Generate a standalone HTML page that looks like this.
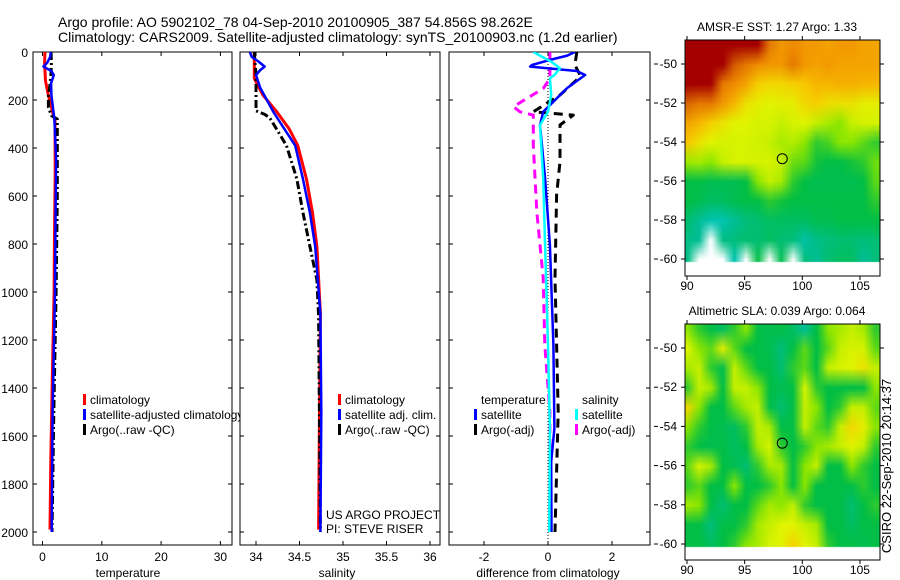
<!DOCTYPE html>
<html><head><meta charset="utf-8">
<style>
body{margin:0;background:#fff;width:900px;height:580px;overflow:hidden;position:relative;font-family:"Liberation Sans",Arial,sans-serif}
canvas{position:absolute}
svg{position:absolute;left:0;top:0}
text{font-family:"Liberation Sans",Arial,sans-serif;font-size:12px;fill:#000}
</style></head>
<body>
<canvas id="sst" width="195" height="236" style="left:685px;top:40px"></canvas>
<canvas id="sla" width="195" height="236" style="left:685px;top:324px"></canvas>
<svg id="s" width="900" height="580" xmlns="http://www.w3.org/2000/svg">
<defs>
<clipPath id="c1"><rect x="33" y="52" width="199" height="493"/></clipPath>
<clipPath id="c2"><rect x="240" y="52" width="200" height="493"/></clipPath>
<clipPath id="c3"><rect x="449" y="52" width="201" height="493"/></clipPath>
<clipPath id="c1x"><rect x="0" y="0" width="240" height="580"/></clipPath>
</defs>
<text x="58" y="27" style="font-size:14px">Argo profile: AO 5902102_78 04-Sep-2010 20100905_387 54.856S 98.262E</text>
<text x="58" y="42" style="font-size:14px">Climatology: CARS2009. Satellite-adjusted climatology: synTS_20100903.nc (1.2d earlier)</text>
<g id="g"></g>
</svg>
<script>
// ---- profile data ----
const tClimDepth=[0,50,120,180,250,290,500,800,1000,1360,1700,1990];
const tClimVal=[0.4,0.35,0.5,1.0,1.7,2.1,2.15,2.0,1.95,1.65,1.4,1.26];
const tSatDepth=[0,20,45,61,79,96,130,180,280,450,700,1000,1500,2000];
const tSatVal=[1.4,1.3,0.8,0.15,1.5,1.9,1.45,1.5,2.0,2.3,2.2,2.1,1.7,1.55];
const tArgoDepth=[0,60,100,150,180,230,265,280,400,600,1000,1500,2000];
const tArgoVal=[1.45,1.5,1.4,1.2,1.0,1.0,1.5,2.5,2.5,2.5,2.3,1.9,1.6];
const sClimDepth=[0,60,110,180,250,320,390,530,670,810,1090,1500,1990];
const sClimVal=[33.98,33.98,33.98,34.08,34.24,34.38,34.48,34.58,34.65,34.70,34.74,34.73,34.72];
const sSatDepth=[0,20,40,61,75,96,150,250,390,530,670,810,1090,1500,2000];
const sSatVal=[33.93,33.95,34.03,34.1,34.05,34.0,34.05,34.2,34.45,34.54,34.62,34.68,34.74,34.75,34.74];
const sArgoDepth=[0,100,180,245,260,275,390,530,670,810,950,1100,2000];
const sArgoVal=[33.98,34.0,34.0,34.0,34.1,34.16,34.35,34.47,34.54,34.62,34.70,34.72,34.74];
const dTSatDepth=[0,15,35,54,61,79,96,150,249,304,527,804,1221,1568,1707,2000];
const dTSatVal=[0.84,0.6,0.0,-0.5,-0.56,0.9,1.16,0.6,-0.15,-0.25,-0.09,0.06,0.17,0.2,0.1,0.11];
const dTArgoDepth=[0,54,96,110,179,249,263,304,457,596,943,1221,1499,2000];
const dTArgoVal=[0.9,0.84,1.0,0.95,0.375,-0.46,0.79,0.375,0.375,0.27,0.22,0.27,0.32,0.22];
const dSSatDepth=[0,40,68,96,110,179,249,304,527,804,1221,1568,2000];
const dSSatVal=[-0.46,0.1,0.375,0.2,0.06,0.1,0,-0.25,-0.15,-0.09,0,0.06,0.04];
const dSArgoDepth=[0,110,152,228,249,263,388,665,943,1221,1499,2000];
const dSArgoVal=[0.06,0.06,-0.15,-1.08,-0.875,-0.46,-0.46,-0.35,-0.15,-0.1,0.06,0.06];
const depthTicks=[0,200,400,600,800,1000,1200,1400,1600,1800,2000];
const tTicks=[0,10,20,30];
const sTicks=[34,34.5,35,35.5,36];
const sTickLabels=["34","34.5","35","35.5","36"];
const dTicks=[-2,0,2];
const dTickLabels=["-2","0","2"];
// ---- map data (rows lat -49..-60, cols lon 90..106) ----
const N=null;
const sstGrid=[
[1,1,1,1,1,1,1,0.85,0.8,0.82,0.8,0.8,0.78,0.8,0.8,0.78,0.78],
[1,1,1,1,0.9,0.85,0.82,0.8,0.8,0.85,0.8,0.78,0.8,0.78,0.78,0.78,0.78],
[1,1,1,0.85,0.82,0.78,0.7,0.68,0.68,0.7,0.72,0.75,0.75,0.76,0.76,0.75,0.75],
[0.88,0.85,0.85,0.8,0.75,0.65,0.62,0.6,0.62,0.62,0.68,0.7,0.66,0.65,0.65,0.62,0.62],
[0.78,0.75,0.7,0.65,0.6,0.6,0.58,0.58,0.55,0.58,0.6,0.55,0.5,0.45,0.55,0.58,0.58],
[0.72,0.65,0.6,0.58,0.58,0.58,0.57,0.55,0.5,0.52,0.45,0.35,0.38,0.45,0.45,0.4,0.35],
[0.48,0.5,0.45,0.55,0.58,0.58,0.58,0.58,0.55,0.42,0.4,0.32,0.3,0.3,0.32,0.35,0.42],
[0.3,0.3,0.28,0.28,0.28,0.3,0.45,0.55,0.5,0.35,0.3,0.28,0.28,0.28,0.28,0.3,0.4],
[0.3,0.28,0.25,0.25,0.28,0.3,0.3,0.35,0.32,0.3,0.3,0.3,0.3,0.3,0.3,0.3,0.35],
[0.22,0.15,0.1,0.1,0.15,0.2,0.22,0.25,0.25,0.25,0.25,0.28,0.28,0.3,0.3,0.3,0.3],
[0.18,0.15,N,0.18,0.2,0.22,0.22,0.25,0.22,0.2,0.12,0.18,0.2,0.22,0.22,0.2,0.22],
[0.18,N,N,N,0.1,N,0.3,N,0.28,N,0.2,0.15,0.22,0.25,0.25,0.15,0.2]];
const slaGrid=[
[0.45,0.35,0.3,0.25,0.35,0.45,0.3,0.28,0.3,0.25,0.15,0.3,0.45,0.5,0.55,0.5,0.35],
[0.6,0.45,0.4,0.62,0.4,0.3,0.3,0.28,0.2,0.3,0.4,0.3,0.4,0.55,0.58,0.58,0.4],
[0.5,0.55,0.35,0.28,0.55,0.4,0.3,0.3,0.22,0.35,0.4,0.3,0.55,0.58,0.6,0.65,0.55],
[0.35,0.55,0.5,0.3,0.55,0.55,0.45,0.3,0.28,0.3,0.58,0.35,0.3,0.3,0.3,0.3,0.45],
[0.68,0.45,0.3,0.3,0.4,0.5,0.55,0.3,0.22,0.3,0.55,0.45,0.3,0.35,0.55,0.55,0.4],
[0.45,0.35,0.3,0.28,0.25,0.35,0.55,0.5,0.3,0.3,0.55,0.4,0.35,0.55,0.68,0.62,0.45],
[0.35,0.3,0.28,0.3,0.25,0.3,0.5,0.58,0.35,0.3,0.35,0.45,0.5,0.55,0.6,0.55,0.35],
[0.4,0.58,0.5,0.3,0.28,0.22,0.35,0.5,0.5,0.3,0.45,0.55,0.3,0.3,0.45,0.35,0.3],
[0.35,0.4,0.3,0.3,0.45,0.3,0.3,0.35,0.45,0.3,0.45,0.3,0.3,0.3,0.3,0.35,0.3],
[0.5,0.45,0.3,0.22,0.3,0.3,0.4,0.5,0.45,0.55,0.35,0.3,0.3,0.3,0.22,0.3,0.35],
[0.3,0.3,0.2,0.3,0.3,0.35,0.5,0.55,0.6,0.6,0.55,0.5,0.3,0.3,0.25,0.3,0.3],
[0.3,0.3,0.25,0.3,0.35,0.45,0.5,0.58,0.6,0.7,0.6,0.55,0.35,0.3,0.3,0.28,0.3]];
const lonTicks=[90,95,100,105];
const latTicks=[-50,-52,-54,-56,-58,-60];
const argoLon=98.262, argoLat=-54.856;

const NS="http://www.w3.org/2000/svg";
const G=document.getElementById('g');
function el(tag,attrs,parent){const e=document.createElementNS(NS,tag);for(const k in attrs)e.setAttribute(k,attrs[k]);(parent||G).appendChild(e);return e;}
function txt(x,y,s,anchor,parent){const t=el('text',{x:x,y:y,'text-anchor':anchor||'start'},parent);t.textContent=s;return t;}

const yD=d=>52+d*0.24;
const panels=[
 {x0:33,x1:232,fx:v=>42.5+v*5.93,clip:'c1',ticks:tTicks,labels:tTicks.map(String),title:'temperature',tx:128,name:'temperature'},
 {x0:240,x1:440,fx:v=>256+(v-34)*87,clip:'c2',ticks:sTicks,labels:sTickLabels,title:'salinity',tx:337,name:'salinity'},
 {x0:449,x1:650,fx:v=>548+v*32,clip:'c3',ticks:dTicks,labels:dTickLabels,title:'difference from climatology',tx:548,name:'difference'}
];
panels.forEach((p,i)=>{
  const r=el('rect',{x:p.x0,y:52,width:p.x1-p.x0,height:493,fill:'none',stroke:'#000','stroke-width':1});
  
  
  p.ticks.forEach((t,j)=>{
    const x=p.fx(t);
    el('line',{x1:x,y1:52,x2:x,y2:56,stroke:'#000'});
    el('line',{x1:x,y1:545,x2:x,y2:541,stroke:'#000'});
    const lab=txt(x,561,p.labels[j],'middle');
    
    
  });
  depthTicks.forEach(d=>{
    el('line',{x1:p.x0,y1:yD(d),x2:p.x0+4,y2:yD(d),stroke:'#000'});
    el('line',{x1:p.x1,y1:yD(d),x2:p.x1-4,y2:yD(d),stroke:'#000'});
  });
  const at=txt(p.tx,577,p.title,'middle');
  
  
});
depthTicks.forEach(d=>{
  const l=txt(28,yD(d)+5,String(d),'end');
  
  
});
function series(p,depths,vals,color,w,dash,name){
  const pts=depths.map((d,i)=>p.fx(vals[i]).toFixed(1)+','+yD(d).toFixed(1)).join(' ');
  const a={points:pts,fill:'none',stroke:color,'stroke-width':w,'clip-path':'url(#'+p.clip+')','stroke-linejoin':'round'};
  if(dash)a['stroke-dasharray']=dash;
  const l=el('polyline',a);
  
  
}
const [P1,P2,P3]=panels;
series(P1,tClimDepth,tClimVal,'#f00',3,null,'temp-climatology-line');
series(P1,tArgoDepth,tArgoVal,'#000',3,'8,3,2,3','temp-argo-line');
series(P1,tSatDepth,tSatVal,'#00f',2.5,null,'temp-satellite-line');
series(P2,sClimDepth,sClimVal,'#f00',3,null,'sal-climatology-line');
series(P2,sArgoDepth,sArgoVal,'#000',3,'8,3,2,3','sal-argo-line');
series(P2,sSatDepth,sSatVal,'#00f',2.5,null,'sal-satellite-line');
const zl=el('line',{x1:P3.fx(0),y1:52,x2:P3.fx(0),y2:545,stroke:'#000','stroke-width':1,'stroke-dasharray':'1,2'});


series(P3,dTArgoDepth,dTArgoVal,'#000',3,'9,6','diff-temp-argo-line');
series(P3,dSArgoDepth,dSArgoVal,'#f0f',3,'9,6','diff-sal-argo-line');
series(P3,dTSatDepth,dTSatVal,'#00f',2.5,null,'diff-temp-satellite-line');
series(P3,dSSatDepth,dSSatVal,'#0ff',2.5,null,'diff-sal-satellite-line');

function legend(x,y,color,label,name,clip){
  const b=el('rect',{x:x,y:y-10,width:3,height:11,fill:color});
  
  
  const t=txt(x+7,y,label);
  if(clip)t.setAttribute('clip-path','url(#'+clip+')');
  
  
}
legend(83,404,'#f00','climatology','legend-t-climatology');
legend(83,419,'#00f','satellite-adjusted climatology','legend-t-satellite','c1x');
legend(83,434,'#000','Argo(..raw -QC)','legend-t-argo');
legend(338,404,'#f00','climatology','legend-s-climatology');
legend(338,419,'#00f','satellite adj. clim.','legend-s-satellite');
legend(338,434,'#000','Argo(..raw -QC)','legend-s-argo');
const th=txt(481,404,'temperature');
const sh=txt(582,404,'salinity');
legend(474,419,'#00f','satellite','legend-d-temp-satellite');
legend(474,434,'#000','Argo(-adj)','legend-d-temp-argo');
legend(575,419,'#0ff','satellite','legend-d-sal-satellite');
legend(575,434,'#f0f','Argo(-adj)','legend-d-sal-argo');
const u1=txt(326,519,'US ARGO PROJECT');
const u2=txt(326,533,'PI: STEVE RISER');

// ---- maps ----
const stops=[[0,[0,210,230]],[0.15,[0,190,150]],[0.3,[0,190,70]],[0.45,[140,230,0]],[0.6,[225,245,0]],[0.72,[250,200,0]],[0.82,[240,140,0]],[0.9,[210,90,0]],[1,[165,0,0]]];
function cmap(v){for(let i=1;i<stops.length;i++){if(v<=stops[i][0]){const a=stops[i-1],b=stops[i],t=(v-a[0])/(b[0]-a[0]);return a[1].map((c,k)=>Math.round(c+(b[1][k]-c)*t));}}return stops[stops.length-1][1];}
function drawMap(id,grid,top,latScale,lat50y){
  const rows=grid.length,cols=grid[0].length;
  const off=document.createElement('canvas');off.width=cols;off.height=rows;
  const oc=off.getContext('2d');const img=oc.createImageData(cols,rows);
  grid.forEach((row,r)=>row.forEach((v,c)=>{const i=(r*cols+c)*4;if(v===null){img.data[i+3]=0;}else{const col=cmap(v);img.data[i]=col[0];img.data[i+1]=col[1];img.data[i+2]=col[2];img.data[i+3]=255;}}));
  oc.putImageData(img,0,0);
  const cv=document.getElementById(id);const ctx=cv.getContext('2d');
  ctx.imageSmoothingEnabled=true;
  const lonX=l=>687+(l-90)*11.53-685;
  const latY=l=>lat50y+(-50-l)*latScale-top;
  ctx.save();ctx.beginPath();ctx.rect(0,0,195,latY(-60.15));ctx.clip();
  ctx.drawImage(off,lonX(89.5),latY(-48.5),lonX(106.8)-lonX(89.5),latY(-60.5)-latY(-48.5));
  ctx.restore();
  return {lonX:l=>lonX(l)+685,latY:l=>latY(l)+top};
}
function mapFrame(top,m,title,name){
  const r=el('rect',{x:685,y:top,width:195,height:236,fill:'none',stroke:'#000'});
  
  
  const t=txt(777,top-9,title,'middle');
  
  
  lonTicks.forEach(l=>{const x=m.lonX(l);el('line',{x1:x,y1:top+236,x2:x,y2:top+240,stroke:'#000'});el('line',{x1:x,y1:top,x2:x,y2:top-4,stroke:'#000'});
    const lb=txt(x,top+250,String(l),'middle');});
  latTicks.forEach(l=>{const y=m.latY(l);el('line',{x1:681,y1:y,x2:685,y2:y,stroke:'#000'});el('line',{x1:880,y1:y,x2:884,y2:y,stroke:'#000'});el('line',{x1:654,y1:y,x2:658,y2:y,stroke:'#000'});
    const lb=txt(677,y+4,String(l),'end');});
  const c=el('circle',{cx:m.lonX(argoLon),cy:m.latY(argoLat),r:5,fill:'none',stroke:'#000','stroke-width':1});
  
  
}
const m1=drawMap('sst',sstGrid,40,19.5,64);
mapFrame(40,m1,'AMSR-E SST: 1.27 Argo: 1.33','sst-map');
const m2=drawMap('sla',slaGrid,324,19.6,348);
mapFrame(324,m2,'Altimetric SLA: 0.039 Argo: 0.064','sla-map');
const cs=el('text',{x:0,y:0,transform:'translate(891,466) rotate(-90)','text-anchor':'middle',style:'font-size:13px'});
cs.textContent='CSIRO 22-Sep-2010 20:14:37';


</script>
</body></html>
